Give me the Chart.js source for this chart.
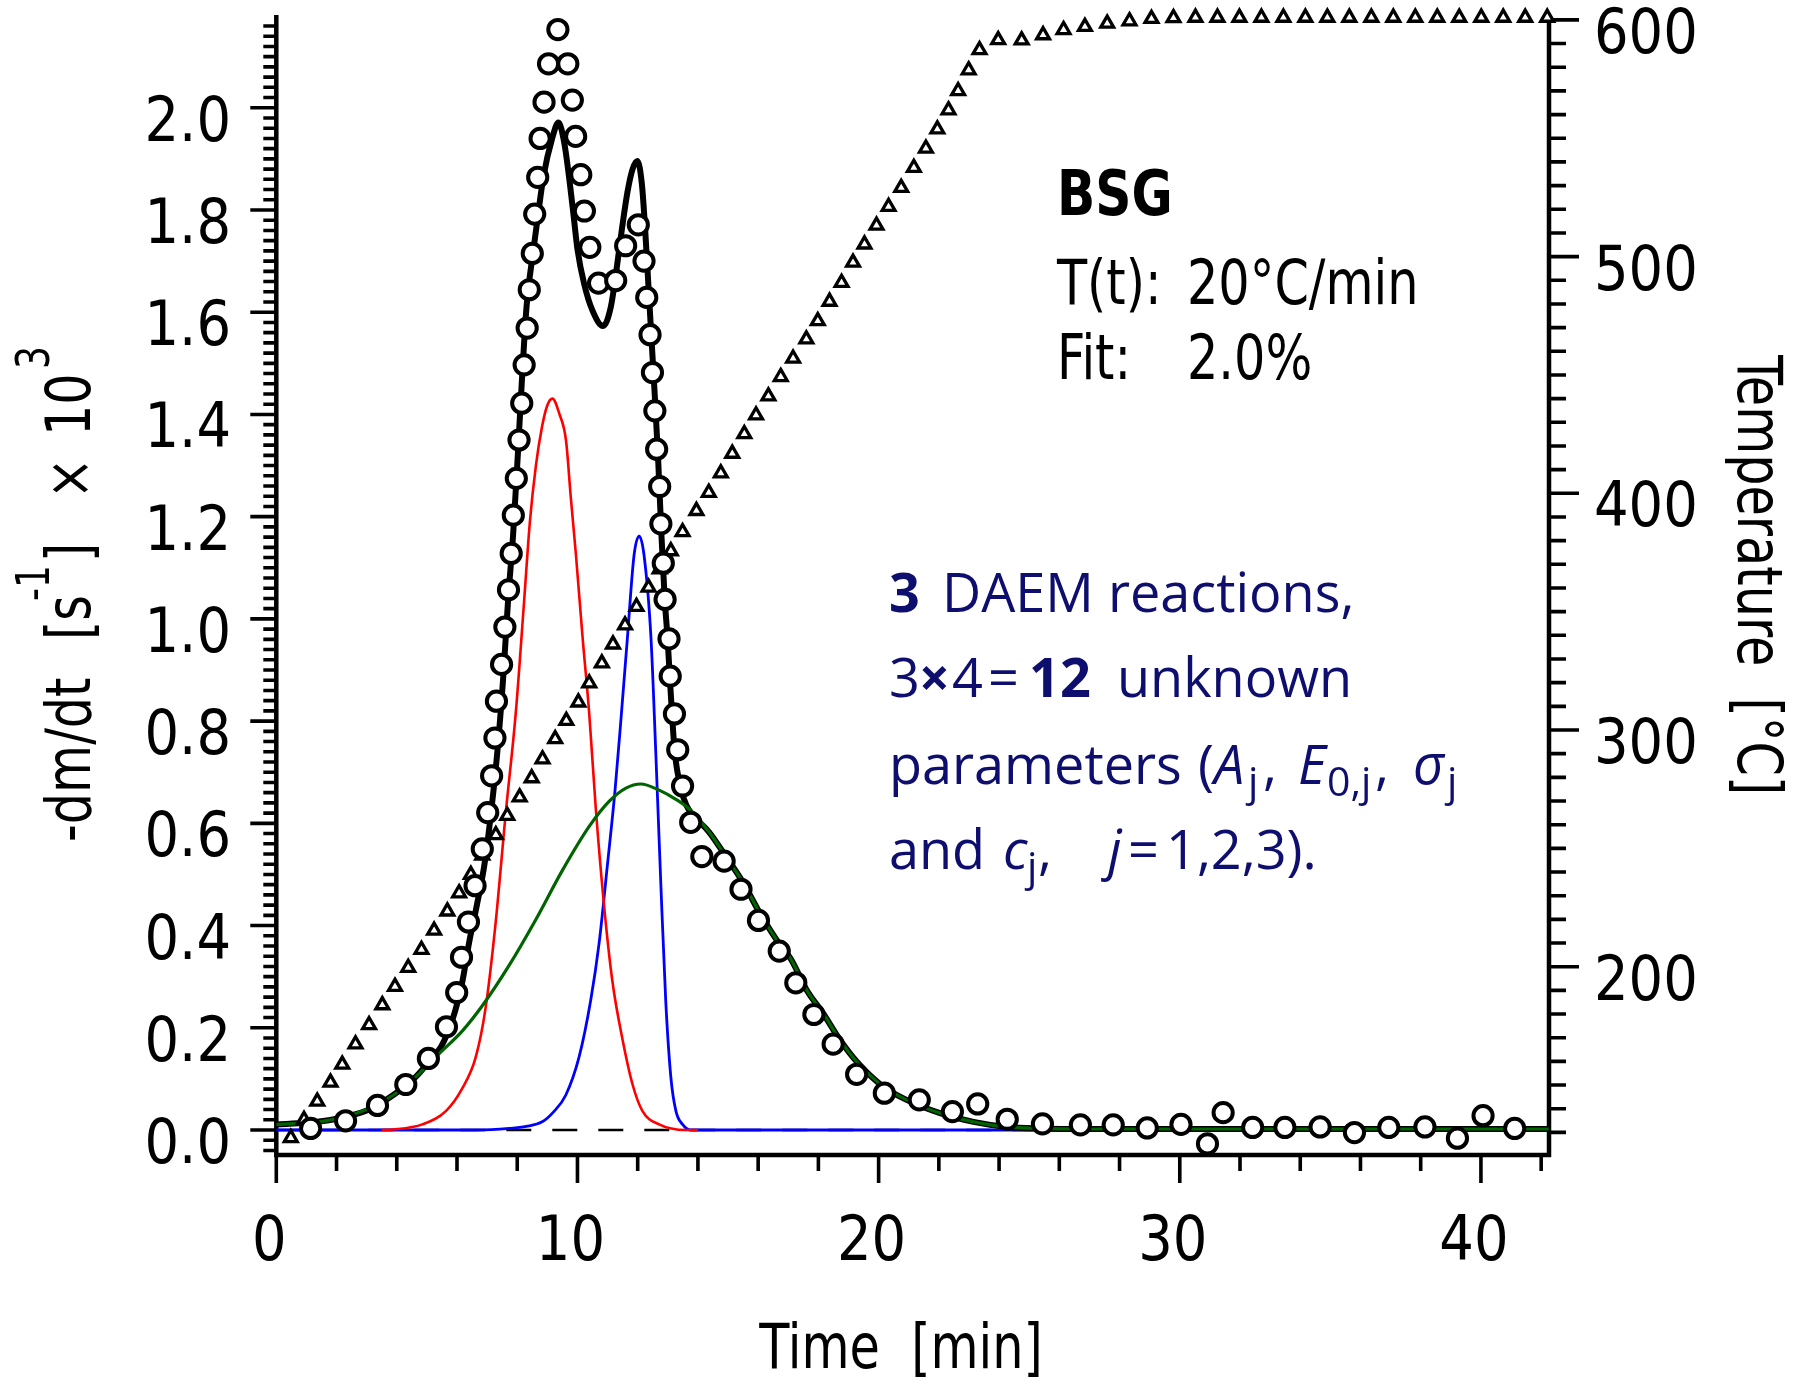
<!DOCTYPE html>
<html>
<head>
<meta charset="utf-8">
<script src="https://cdn.jsdelivr.net/npm/chart.js@4.4.1/dist/chart.umd.min.js"></script>
<style>
  html, body { margin: 0; padding: 0; background: #fff; }
  #wrap { width: 1796px; height: 1383px; position: relative; }
</style>
</head>
<body>
<div id="wrap"><canvas id="myChart"></canvas></div>
<script>
// measured mass loss rate, -dm/dt x 10^3 [1/s] (open circles)
const expTime = [1.14, 2.30, 3.36, 4.30, 5.05, 5.65, 5.99, 6.15, 6.38, 6.60, 6.84, 7.02, 7.15, 7.26, 7.31, 7.48, 7.59, 7.71, 7.80, 7.87,
  7.97, 8.06, 8.15, 8.23, 8.33, 8.40, 8.50, 8.58, 8.68, 8.76, 8.89, 9.04, 9.35, 9.68, 9.83, 9.94, 10.11, 10.23, 10.41, 10.70,
  11.27, 11.60, 12.02, 12.21, 12.30, 12.41, 12.49, 12.57, 12.63, 12.73, 12.77, 12.85, 12.91, 13.04, 13.08, 13.22, 13.33, 13.49, 13.76, 14.13,
  14.87, 15.43, 16.01, 16.70, 17.25, 17.85, 18.49, 19.27, 20.19, 21.35, 22.45, 23.29, 24.27, 25.44, 26.70, 27.79, 28.92, 30.04, 30.92, 31.44,
  32.42, 33.49, 34.66, 35.80, 36.94, 38.14, 39.22, 40.07, 41.12];
const expRate = [0.003, 0.018, 0.048, 0.089, 0.140, 0.202, 0.269, 0.338, 0.407, 0.478, 0.550, 0.621, 0.693, 0.767, 0.839, 0.911, 0.984, 1.057, 1.128, 1.203,
  1.275, 1.350, 1.422, 1.497, 1.569, 1.644, 1.715, 1.792, 1.864, 1.940, 2.011, 2.086, 2.153, 2.086, 2.015, 1.944, 1.869, 1.798, 1.727, 1.657,
  1.662, 1.730, 1.771, 1.700, 1.629, 1.556, 1.482, 1.407, 1.332, 1.259, 1.186, 1.109, 1.038, 0.961, 0.888, 0.814, 0.744, 0.673, 0.602, 0.535,
  0.526, 0.471, 0.410, 0.350, 0.288, 0.226, 0.168, 0.109, 0.072, 0.059, 0.036, 0.051, 0.021, 0.012, 0.010, 0.010, 0.004, 0.011, -0.027, 0.034,
  0.005, 0.005, 0.006, -0.005, 0.005, 0.006, -0.016, 0.028, 0.003];

// fitted curve (thick black)
const fitTime = [0, 1.0, 2.0, 3.0, 3.85, 4.63, 5.18, 5.48, 5.85, 6.18, 6.40, 6.66, 6.90, 7.07, 7.34, 7.54, 7.70, 7.86, 8.01, 8.15,
  8.31, 8.54, 8.69, 8.87, 9.16, 9.37, 9.56, 9.72, 9.87, 10.00, 10.22, 10.50, 10.85, 11.11, 11.30, 11.47, 11.66, 11.83, 11.99, 12.14,
  12.25, 12.36, 12.47, 12.58, 12.68, 12.79, 12.90, 12.99, 13.10, 13.23, 13.45, 13.62, 13.85, 14.37, 14.93, 15.48, 16.04, 16.59, 17.10, 17.61,
  18.16, 18.72, 19.27, 20.15, 20.93, 22.04, 23.15, 24.26, 25.36, 27.0, 42.25];
const fitRate = [0.011, 0.014, 0.022, 0.038, 0.067, 0.104, 0.142, 0.164, 0.216, 0.291, 0.366, 0.440, 0.515, 0.590, 0.740, 0.890, 1.040, 1.162, 1.311, 1.461,
  1.611, 1.723, 1.790, 1.865, 1.940, 1.971, 1.932, 1.865, 1.790, 1.723, 1.656, 1.603, 1.573, 1.611, 1.685, 1.760, 1.835, 1.880, 1.896, 1.850,
  1.760, 1.648, 1.536, 1.424, 1.311, 1.162, 1.036, 0.964, 0.852, 0.740, 0.665, 0.635, 0.615, 0.583, 0.535, 0.486, 0.426, 0.374, 0.333, 0.274,
  0.228, 0.176, 0.134, 0.085, 0.059, 0.033, 0.016, 0.006, 0.003, 0.002, 0.002];

// DAEM reaction 1 (red)
const redTime = [3.5, 3.85, 4.85, 5.63, 6.18, 6.62, 6.95, 7.28, 7.62, 7.95, 8.23, 8.42, 8.62, 8.82, 9.00, 9.17, 9.40, 9.62, 9.78, 9.95,
  10.17, 10.39, 10.61, 10.88, 11.16, 11.49, 11.83, 12.16, 12.71, 13.60, 14.00];
const redRate = [0, 0.001, 0.011, 0.037, 0.082, 0.142, 0.239, 0.404, 0.621, 0.815, 1.036, 1.190, 1.300, 1.375, 1.418, 1.431, 1.401, 1.349, 1.237, 1.125,
  0.964, 0.815, 0.628, 0.441, 0.291, 0.179, 0.089, 0.037, 0.011, 0.000, 0.000];

// DAEM reaction 2 (blue)
const blueTime = [0, 6.62, 7.73, 8.30, 8.83, 9.20, 9.61, 10.05, 10.44, 10.72, 10.99, 11.25, 11.46, 11.66, 11.88, 12.05, 12.21, 12.44, 12.60, 12.77,
  12.93, 13.10, 13.27, 13.49, 13.76, 42.25];
const blueRate = [0, 0, 0.003, 0.007, 0.016, 0.035, 0.068, 0.142, 0.254, 0.366, 0.516, 0.666, 0.815, 0.964, 1.125, 1.162, 1.125, 0.964, 0.740, 0.479,
  0.254, 0.104, 0.037, 0.011, 0, 0];

// DAEM reaction 3 (green)
const greenTime = [0, 1.64, 2.86, 3.85, 4.63, 5.40, 6.18, 6.84, 7.73, 8.61, 9.50, 10.39, 11.05, 11.61, 12.10, 12.71, 13.27, 13.71, 14.37, 14.93,
  15.48, 16.04, 16.59, 17.10, 17.61, 18.16, 18.72, 19.27, 20.15, 20.93, 22.04, 23.15, 24.26, 25.36, 27.0, 42.25];
const greenRate = [0.011, 0.018, 0.037, 0.067, 0.104, 0.149, 0.194, 0.243, 0.322, 0.411, 0.508, 0.594, 0.643, 0.669, 0.677, 0.665, 0.647, 0.628, 0.583, 0.535,
  0.486, 0.426, 0.374, 0.333, 0.274, 0.228, 0.176, 0.134, 0.085, 0.059, 0.033, 0.016, 0.006, 0.003, 0.002, 0.002];

// temperature program (triangles, right axis)
const tempTime = [0.48, 0.92, 1.36, 1.80, 2.19, 2.63, 3.08, 3.52, 3.94, 4.38, 4.82, 5.24, 5.68, 6.07, 6.46, 6.84, 7.29, 7.67, 8.08, 8.48,
  8.84, 9.26, 9.63, 10.03, 10.39, 10.81, 11.18, 11.58, 11.96, 12.36, 12.73, 13.10, 13.49, 13.95, 14.36, 14.76, 15.14, 15.54, 15.93, 16.34,
  16.75, 17.16, 17.60, 17.98, 18.37, 18.77, 19.15, 19.53, 19.93, 20.33, 20.75, 21.17, 21.57, 21.95, 22.32, 22.64, 22.99, 23.35, 23.97, 24.75,
  25.46, 26.14, 26.85, 27.59, 28.33, 29.06, 29.79, 30.52, 31.25, 31.98, 32.71, 33.44, 34.17, 34.90, 35.63, 36.36, 37.09, 37.82, 38.55, 39.28,
  40.01, 40.74, 41.47, 42.20];
const tempValue = [127.7, 135.4, 143.1, 151.1, 158.7, 167.3, 175.4, 183.8, 191.6, 199.6, 207.2, 215.3, 223.4, 231.1, 238.9, 247.0, 255.7, 263.8, 271.6, 279.7,
  287.7, 296.2, 303.9, 311.7, 319.8, 328.2, 336.2, 344.3, 352.1, 360.2, 368.0, 375.6, 383.7, 392.6, 400.3, 408.5, 416.8, 425.1, 433.0, 441.0,
  449.2, 457.0, 465.1, 472.8, 481.0, 489.0, 497.5, 505.2, 513.2, 521.1, 529.1, 537.6, 545.7, 553.8, 561.9, 570.0, 578.8, 587.3, 591.5, 591.4,
  593.6, 595.8, 597.1, 598.5, 599.5, 600.5, 600.8, 601.0, 601.0, 601.0, 601.0, 601.0, 601.0, 601.0, 601.0, 601.0, 601.0, 601.0, 601.0, 601.0,
  601.0, 601.0, 601.0, 601.0];

// axis ranges
const xRange = [0, 42.26];
const rateRange = [-0.0489, 2.1815];
const tempRange = [120.45, 602.07];

const FONT = '"DejaVu Sans Condensed", "DejaVu Sans", sans-serif';
const NOTE_FONT = '"Open Sans", "Noto Sans", sans-serif';
const NAVY = '#0e0e6e';
const TEXT_SX = 0.87;   // horizontal squeeze of the black lettering
const DIGIT_SX = 0.96;

const pts = (xs, ys) => xs.map((x, i) => ({ x, y: ys[i] }));

function squeezed(ctx, text, x, y, align, sx) {
  ctx.save();
  ctx.translate(x, y);
  ctx.scale(sx, 1);
  ctx.textAlign = align;
  ctx.fillText(text, 0, 0);
  ctx.restore();
}

// axis lines, tick marks (major + minor) and tick labels, placed with the chart scales
const axesFrame = {
  id: 'axesFrame',
  beforeDatasetsDraw(chart) {
    const { ctx, chartArea: a, scales } = chart;
    const { x, y, y2 } = scales;
    ctx.save();
    ctx.strokeStyle = '#000';
    ctx.lineWidth = 4.5;
    ctx.beginPath();
    ctx.moveTo(a.left, a.top); ctx.lineTo(a.left, a.bottom + 2);
    ctx.moveTo(a.left - 2, a.bottom); ctx.lineTo(a.right + 2, a.bottom);
    ctx.moveTo(a.right, a.top); ctx.lineTo(a.right, a.bottom + 2);
    ctx.stroke();

    ctx.lineWidth = 3.6;
    ctx.beginPath();
    for (let i = 0; i <= 21; i++) {
      const v = i * 2;
      const px = x.getPixelForValue(v);
      const len = v % 10 === 0 ? 28 : 16;
      ctx.moveTo(px, a.bottom); ctx.lineTo(px, a.bottom + len);
    }
    for (let i = -2; i <= 108; i++) {
      const v = i * 0.02;
      if (v > 2.17 || v < rateRange[0]) continue;
      const py = y.getPixelForValue(v);
      const len = i % 10 === 0 ? 26 : 13;
      ctx.moveTo(a.left, py); ctx.lineTo(a.left - len, py);
    }
    for (let v = 130; v <= 600; v += 10) {
      const py = y2.getPixelForValue(v);
      const len = v % 100 === 0 ? 30 : 17;
      ctx.moveTo(a.right, py); ctx.lineTo(a.right + len, py);
    }
    ctx.stroke();

    ctx.fillStyle = '#000';
    ctx.textBaseline = 'alphabetic';
    ctx.font = `63px ${FONT}`;
    for (const t of x.ticks) {
      squeezed(ctx, String(t.value), x.getPixelForValue(t.value) - 7, 1260, 'center', DIGIT_SX);
    }
    for (const t of y.ticks) {
      squeezed(ctx, t.value.toFixed(1), 231, y.getPixelForValue(t.value) + 33, 'right', DIGIT_SX);
    }
    for (const t of y2.ticks) {
      squeezed(ctx, String(t.value), 1594, y2.getPixelForValue(t.value) + 33, 'left', DIGIT_SX);
    }
    ctx.restore();
  }
};

function drawAt(ctx, y, parts) {
  for (const p of parts) {
    ctx.font = p.font;
    ctx.fillText(p.text, p.x, y + (p.dy || 0));
  }
}

const labels = {
  id: 'labels',
  afterDraw(chart) {
    const { ctx } = chart;
    ctx.save();
    ctx.fillStyle = '#000';
    ctx.textBaseline = 'alphabetic';
    ctx.textAlign = 'left';
    const big = `63px ${FONT}`;
    const sup = `46px ${FONT}`;

    // x title
    ctx.font = big;
    squeezed(ctx, 'Time  [min]', 901, 1368, 'center', TEXT_SX);

    // left title (rotated, with superscripts)
    ctx.save();
    ctx.translate(90, 842);
    ctx.rotate(-Math.PI / 2);
    const leftParts = [
      { t: '-dm/dt', at: 0, f: big },
      { t: '[s', at: 202, f: big },
      { t: '-1', at: 241, f: sup, dy: -41 },
      { t: ']', at: 280, f: big },
      { t: '\u00d7', at: 343, f: big },
      { t: '10', at: 406, f: big },
      { t: '3', at: 473, f: sup, dy: -41 }
    ];
    for (const p of leftParts) {
      ctx.font = p.f;
      squeezed(ctx, p.t, p.at, p.dy || 0, 'left', TEXT_SX);
    }
    ctx.restore();

    // right title
    ctx.save();
    ctx.translate(1738, 355);
    ctx.rotate(Math.PI / 2);
    ctx.font = big;
    squeezed(ctx, 'Temperature  [\u00b0C]', 0, 0, 'left', TEXT_SX);
    ctx.restore();

    // sample notes
    ctx.font = `bold 62px ${FONT}`;
    squeezed(ctx, 'BSG', 1057, 215, 'left', 0.9);
    ctx.font = big;
    squeezed(ctx, 'T(t):', 1057, 304, 'left', TEXT_SX);
    squeezed(ctx, '20\u00b0C/min', 1187, 304, 'left', TEXT_SX);
    squeezed(ctx, 'Fit:', 1057, 379, 'left', TEXT_SX);
    squeezed(ctx, '2.0%', 1187, 379, 'left', TEXT_SX);

    // model notes (navy)
    ctx.fillStyle = NAVY;
    const reg = `54px ${NOTE_FONT}`;
    const bold = `bold 54px ${NOTE_FONT}`;
    const ital = `italic 54px ${NOTE_FONT}`;
    const sub = `41px ${NOTE_FONT}`;
    drawAt(ctx, 612, [
      { text: '3', x: 889, font: bold },
      { text: 'DAEM reactions,', x: 942, font: reg }
    ]);
    drawAt(ctx, 697, [
      { text: '3', x: 889, font: reg },
      { text: '\u00d7', x: 919, font: bold },
      { text: '4', x: 952, font: reg },
      { text: '=', x: 988, font: reg },
      { text: '12', x: 1029, font: bold },
      { text: 'unknown', x: 1117, font: reg }
    ]);
    drawAt(ctx, 784, [
      { text: 'parameters', x: 889, font: reg },
      { text: '(', x: 1198, font: reg },
      { text: 'A', x: 1214, font: ital },
      { text: 'j', x: 1248, font: sub, dy: 12 },
      { text: ',', x: 1263, font: reg },
      { text: 'E', x: 1298, font: ital },
      { text: '0,j', x: 1327, font: sub, dy: 12 },
      { text: ',', x: 1375, font: reg },
      { text: '\u03c3', x: 1413, font: ital },
      { text: 'j', x: 1447, font: sub, dy: 12 }
    ]);
    drawAt(ctx, 869, [
      { text: 'and', x: 889, font: reg },
      { text: 'c', x: 1003, font: ital },
      { text: 'j', x: 1027, font: sub, dy: 12 },
      { text: ',', x: 1038, font: reg },
      { text: 'j', x: 1108, font: ital },
      { text: '=', x: 1128, font: reg },
      { text: '1,2,3).', x: 1166, font: reg }
    ]);
    ctx.restore();
  }
};

const lineSet = (label, xs, ys, color, width, order) => ({
  label,
  data: pts(xs, ys),
  yAxisID: 'y',
  showLine: true,
  pointRadius: 0,
  borderColor: color,
  borderWidth: width,
  cubicInterpolationMode: 'monotone',
  order
});

const hiddenTicks = { display: false, includeBounds: false, autoSkip: false };

const ctx = document.getElementById('myChart');

new Chart(ctx, {
  type: 'scatter',
  data: {
    datasets: [
      {
        label: 'measured',
        data: pts(expTime, expRate),
        yAxisID: 'y',
        pointStyle: 'circle',
        pointRadius: 9.6,
        pointBorderWidth: 4,
        pointBackgroundColor: '#fff',
        pointBorderColor: '#000',
        showLine: false,
        clip: false,
        order: 1
      },
      {
        label: 'temperature',
        data: pts(tempTime, tempValue),
        yAxisID: 'y2',
        pointStyle: 'triangle',
        pointRadius: 7.4,
        pointBorderWidth: 3.3,
        pointBackgroundColor: '#fff',
        pointBorderColor: '#000',
        showLine: false,
        clip: false,
        order: 2
      },
      lineSet('reaction 3', greenTime, greenRate, '#006400', 3.2, 3),
      lineSet('fit', fitTime, fitRate, '#000', 6, 4),
      lineSet('reaction 1', redTime, redRate, '#ff0000', 2.6, 5),
      lineSet('reaction 2', blueTime, blueRate, '#0000ff', 2.8, 6),
      {
        label: 'zero',
        data: pts(xRange, [0, 0]),
        yAxisID: 'y',
        showLine: true,
        pointRadius: 0,
        borderColor: '#000',
        borderWidth: 2.5,
        borderDash: [25, 21],
        order: 7
      }
    ]
  },
  options: {
    responsive: true,
    maintainAspectRatio: false,
    animation: false,
    events: [],
    layout: { autoPadding: false, padding: { top: 15, left: 0, right: 0, bottom: 0 } },
    plugins: { legend: { display: false }, tooltip: { enabled: false } },
    scales: {
      x: {
        type: 'linear',
        position: 'bottom',
        min: xRange[0],
        max: xRange[1],
        afterFit: (s) => { s.height = 228; s.paddingLeft = 0; s.paddingRight = 0; },
        grid: { display: false, drawTicks: false },
        border: { display: false },
        ticks: { ...hiddenTicks, stepSize: 10 }
      },
      y: {
        type: 'linear',
        position: 'left',
        min: rateRange[0],
        max: rateRange[1],
        afterFit: (s) => { s.width = 276.3; s.paddingTop = 0; s.paddingBottom = 0; },
        grid: { display: false, drawTicks: false },
        border: { display: false },
        ticks: { ...hiddenTicks, stepSize: 0.2 }
      },
      y2: {
        type: 'linear',
        position: 'right',
        min: tempRange[0],
        max: tempRange[1],
        afterFit: (s) => { s.width = 247; s.paddingTop = 0; s.paddingBottom = 0; },
        grid: { display: false, drawTicks: false },
        border: { display: false },
        ticks: { ...hiddenTicks, stepSize: 100 }
      }
    }
  },
  plugins: [axesFrame, labels]
});
</script>
</body>
</html>
